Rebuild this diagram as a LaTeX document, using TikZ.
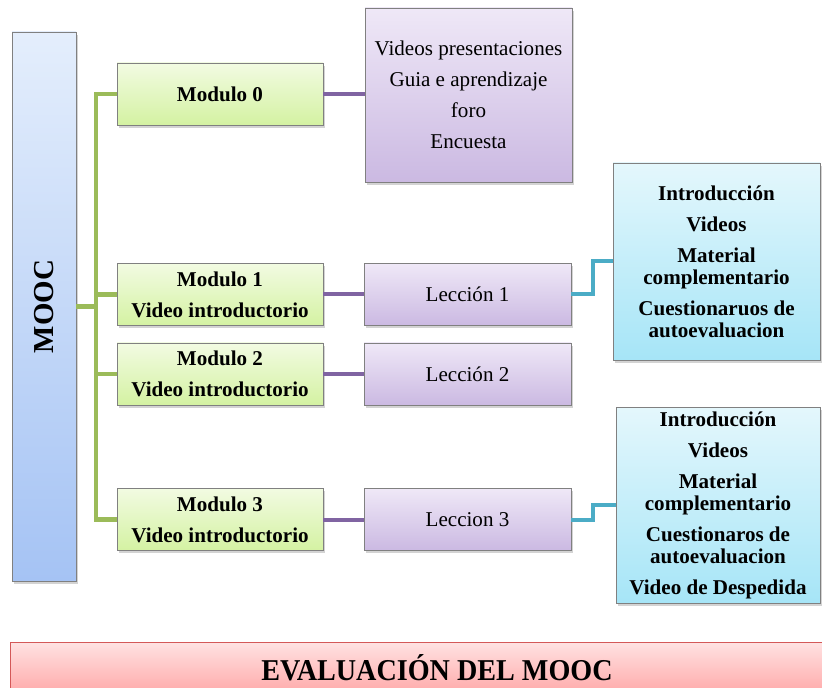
\documentclass[tikz,border=0pt]{standalone}
\usepackage{fontspec}
\setmainfont{Liberation Serif}
\usepackage{graphicx}
\usetikzlibrary{shadows}

\definecolor{verdeArriba}{HTML}{F2FBE2}
\definecolor{verdeAbajo}{HTML}{D4F2A2}
\definecolor{verdeLinea}{HTML}{9BBB59}
\definecolor{moradoArriba}{HTML}{EFE8F7}
\definecolor{moradoAbajo}{HTML}{CBB9E2}
\definecolor{moradoLinea}{HTML}{8064A2}
\definecolor{azulArriba}{HTML}{E4F7FC}
\definecolor{azulAbajo}{HTML}{A6E5F7}
\definecolor{azulLinea}{HTML}{4BACC6}
\definecolor{moocArriba}{HTML}{E4EEFC}
\definecolor{moocAbajo}{HTML}{A5C3F4}
\definecolor{rojoArriba}{HTML}{FFE2E2}
\definecolor{rojoAbajo}{HTML}{FFA9A9}
\definecolor{rojoBorde}{HTML}{D45858}

\tikzset{
  caja/.style={draw=black!50, line width=0.5pt, inner sep=0pt, align=center,
    drop shadow={shadow xshift=1.5pt, shadow yshift=-2pt, opacity=0.35},
    font=\fontsize{15.8}{16.5}\selectfont},
  modulo/.style={caja, top color=verdeArriba, bottom color=verdeAbajo,
    font=\fontsize{15.8}{16.5}\selectfont\bfseries,
    minimum width=154.5pt, minimum height=46.5pt},
  leccion/.style={caja, top color=moradoArriba, bottom color=moradoAbajo,
    minimum width=155.25pt, minimum height=46.5pt},
  recursos/.style={caja, top color=azulArriba, bottom color=azulAbajo,
    font=\fontsize{15.8}{16.5}\selectfont\bfseries},
  rama/.style={line width=3.5pt, verdeLinea},
  enlace/.style={line width=3pt, moradoLinea},
  enlaceazul/.style={line width=3pt, azulLinea}
}

\begin{document}
\begin{tikzpicture}[x=0.75pt, y=-0.75pt]
    \useasboundingbox (0,0) rectangle (822,688);
    % MOOC
    \node[caja, top color=moocArriba, bottom color=moocAbajo,
      minimum width=48pt, minimum height=411.75pt,
      font=\fontsize{21.7}{24}\selectfont\bfseries] (mooc) at (44,306.5)
      {\rotatebox{90}{MOOC}};
    % Modulos
    \node[modulo] (mod0) at (220,94) {Modulo 0};
    \node[modulo] (mod1) at (220,294.5) {Modulo 1\\[6.75pt] Video introductorio};
    \node[modulo] (mod2) at (220,374) {Modulo 2\\[6.75pt]Video introductorio};
    \node[modulo] (mod3) at (220,519.5) {Modulo 3\\[6.75pt]Video introductorio};
    % Lecciones
    \node[leccion, minimum height=130.5pt] (intro) at (468.5,95)
      {Videos presentaciones\\[6.75pt]Guia e aprendizaje\\[6.75pt]foro\\[6.75pt]Encuesta};
    \node[leccion] (lec1) at (467.5,294.5) {Lección 1};
    \node[leccion] (lec2) at (467.5,374) {Lección 2};
    \node[leccion] (lec3) at (467.5,519.5) {Leccion 3};
    % Contenidos
    \node[recursos, minimum width=155.25pt, minimum height=147.75pt] (cont1) at (716.5,261.5)
      {Introducción\\[6.75pt]Videos\\[6.75pt]Material\\complementario\\[6.75pt]Cuestionaruos de\\autoevaluacion};
    \node[recursos, minimum width=153pt, minimum height=147pt] (cont3) at (718,505)
      {Introducción\\[6.75pt]Videos\\[6.75pt]Material\\complementario\\[6.75pt]Cuestionaros de\\autoevaluacion\\[6.75pt]Video de Despedida};
    % Evaluacion
    \node[caja, draw=rojoBorde, top color=rojoArriba, bottom color=rojoAbajo,
      minimum width=640.5pt, minimum height=39pt, text height=18pt, text depth=0pt,
      font=\fontsize{22.7}{24}\selectfont\bfseries] (eval) at (437,668)
      {\scalebox{0.93}[1]{EVALUACIÓN DEL MOOC}};
    % Conectores
    \coordinate (tronco) at (96,306.5);
    \draw[rama] (mooc.east) -- (tronco);
    \draw[rama] (mod0.west) -| (tronco);
    \draw[rama] (mod3.west) -| (tronco);
    \draw[rama] (mod1.west) -| (tronco);
    \draw[rama] (mod2.west) -| (tronco);
    \draw[enlace] (mod0.east) -- (mod0.east -| intro.west);
    \draw[enlace] (mod1.east) -- (lec1.west);
    \draw[enlace] (mod2.east) -- (lec2.west);
    \draw[enlace] (mod3.east) -- (lec3.west);
    \draw[enlaceazul] (lec1.east) -- ++(22,0) |- (cont1.west);
    \draw[enlaceazul] (lec3.east) -- ++(22,0) |- (cont3.west);
\end{tikzpicture}
\end{document}
